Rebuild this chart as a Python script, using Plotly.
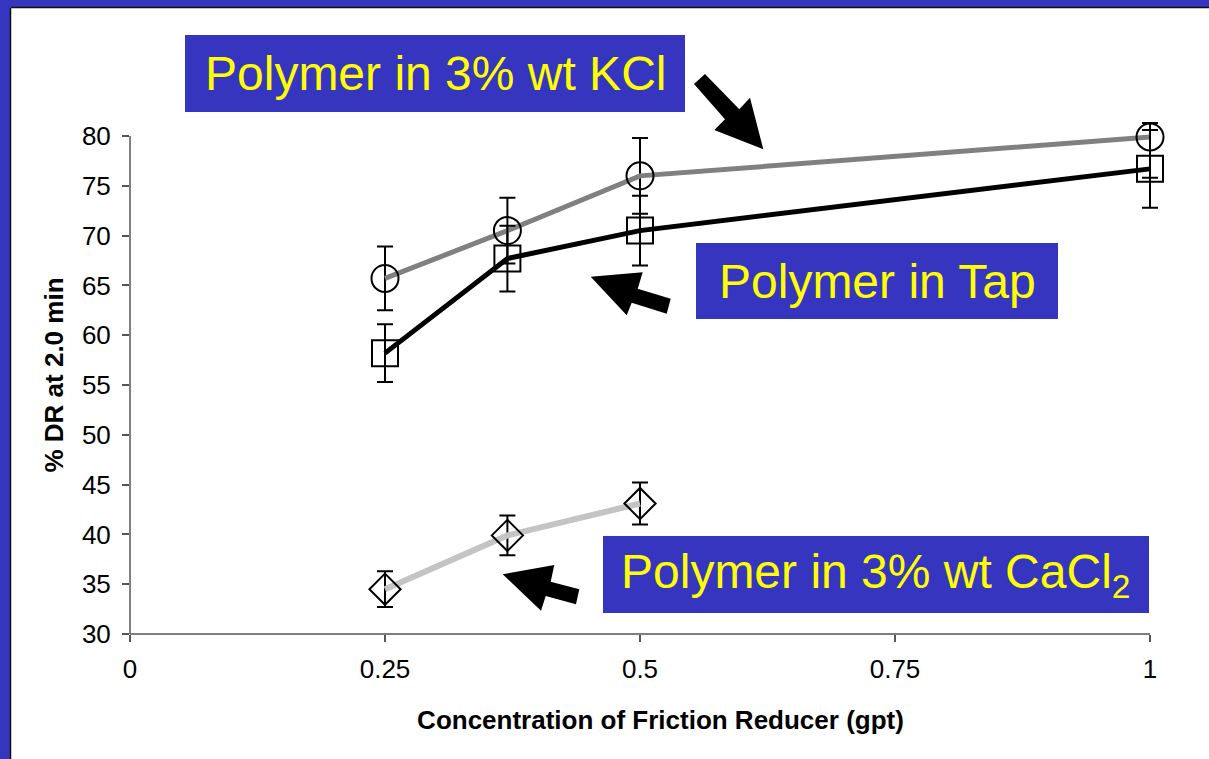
import plotly.graph_objects as go

# ---------------- data ----------------
conc = [0.25, 0.37, 0.5, 1.0]
kcl_dr = [65.7, 70.5, 76.0, 79.9]
kcl_err_plus = [3.2, 3.3, 3.8, 1.4]
kcl_err_minus = [3.2, 3.3, 3.8, 4.1]
tap_dr = [58.2, 67.7, 70.5, 76.7]
tap_err = [2.9, 3.3, 3.5, 3.9]
cacl_conc = [0.25, 0.37, 0.5]
cacl_dr = [34.5, 39.9, 43.1]
cacl_err = [1.8, 2.0, 2.1]
x_ticks = [0, 0.25, 0.5, 0.75, 1]
x_ticklabels = ["0", "0.25", "0.5", "0.75", "1"]
y_ticks = [30, 35, 40, 45, 50, 55, 60, 65, 70, 75, 80]
labels = ["Polymer in 3% wt KCl", "Polymer in Tap", "Polymer in 3% wt CaCl<sub>2</sub>"]

# ---------------- layout geometry ----------------
FW, FH = 1209, 759
L, R, T, B = 130, 18, 116, 125
W, H = FW - L - R, FH - T - B
X_PER_UNIT = 1020.0          # px per x unit
Y_PER_UNIT = 9.96            # px per y unit
XMAX = W / X_PER_UNIT
YMIN = 30
YMAX = YMIN + H / Y_PER_UNIT

FONT = "Liberation Sans, Arial, sans-serif"
BLUE = "#3535C0"
YELLOW = "#FFFF00"


def pp(px, py):
    """page pixel -> paper coords"""
    return (px - L) / W, (FH - B - py) / H


fig = go.Figure()

fig.add_trace(go.Scatter(
    x=cacl_conc, y=cacl_dr, mode="lines+markers", name="CaCl2",
    line=dict(color="#C4C4C4", width=6),
    marker=dict(symbol="diamond-open", size=24, color="black", line=dict(width=2, color="black")),
    error_y=dict(type="data", array=cacl_err, color="black", thickness=2, width=8),
    cliponaxis=False,
))
fig.add_trace(go.Scatter(
    x=conc, y=kcl_dr, mode="lines+markers", name="KCl",
    line=dict(color="#808080", width=5),
    marker=dict(symbol="circle-open", size=27, color="black", line=dict(width=2, color="black")),
    error_y=dict(type="data", array=kcl_err_plus, arrayminus=kcl_err_minus, symmetric=False,
                 color="black", thickness=2, width=8),
    cliponaxis=False,
))
fig.add_trace(go.Scatter(
    x=conc, y=tap_dr, mode="lines+markers", name="Tap",
    line=dict(color="black", width=5),
    marker=dict(symbol="square-open", size=26, color="black", line=dict(width=2, color="black")),
    error_y=dict(type="data", array=tap_err, color="black", thickness=2, width=8),
    cliponaxis=False,
))

shapes = []
# blue frame strips on the left and top, with a dark inner edge
a0, b1 = pp(-5, -5)
a1, b0 = pp(10, FH + 5)
shapes.append(dict(type="rect", xref="paper", yref="paper", x0=a0, x1=a1, y0=b0, y1=b1,
                   fillcolor=BLUE, line=dict(width=0), layer="below"))
a0, b1 = pp(-5, -5)
a1, b0 = pp(FW + 5, 7)
shapes.append(dict(type="rect", xref="paper", yref="paper", x0=a0, x1=a1, y0=b0, y1=b1,
                   fillcolor=BLUE, line=dict(width=0), layer="below"))
a0, b0 = pp(10.5, FH + 5)
a1, b1 = pp(10.5, 7.5)
shapes.append(dict(type="line", xref="paper", yref="paper", x0=a0, x1=a1, y0=b0, y1=b1,
                   line=dict(color="#111111", width=1.5), layer="below"))
a0, b0 = pp(10.5, 7.5)
a1, b1 = pp(FW + 5, 7.5)
shapes.append(dict(type="line", xref="paper", yref="paper", x0=a0, x1=a1, y0=b0, y1=b1,
                   line=dict(color="#111111", width=1.5), layer="below"))

# axis lines
y80 = (80 - YMIN) / (YMAX - YMIN)
x1p = 1 / XMAX
shapes.append(dict(type="line", xref="paper", yref="paper", x0=0, x1=0, y0=0, y1=y80,
                   line=dict(color="#555555", width=1.5)))
shapes.append(dict(type="line", xref="paper", yref="paper", x0=0, x1=x1p, y0=0, y1=0,
                   line=dict(color="#555555", width=1.5)))

# label boxes (page pixel extents)
boxes = [(185, 35, 685, 112), (696, 243, 1058, 319), (603, 536, 1149, 613)]
for (bx0, by0, bx1, by1) in boxes:
    a0, b1 = pp(bx0, by0)
    a1, b0 = pp(bx1, by1)
    shapes.append(dict(type="rect", xref="paper", yref="paper", x0=a0, x1=a1, y0=b0, y1=b1,
                       fillcolor=BLUE, line=dict(width=0)))

# fat arrows (page pixel polygons)
arrows = [
    [(694, 84), (725, 119.3), (714.3, 130), (763.3, 149.3), (750, 97.7), (739.3, 109.3), (705, 74)],
    [(590.7, 276.7), (642.7, 272.2), (637.7, 288.7), (670.7, 298.7), (666.7, 313.7), (631.7, 302.7), (626.7, 315.2)],
    [(502.7, 574.3), (554.3, 565), (550.7, 581.7), (579.3, 589.3), (576, 604.3), (545.7, 596), (541, 610.7)],
]
for poly in arrows:
    pts = [pp(px, py) for px, py in poly]
    path = "M " + " L ".join(f"{a:.5f},{b:.5f}" for a, b in pts) + " Z"
    shapes.append(dict(type="path", xref="paper", yref="paper", path=path,
                       fillcolor="black", line=dict(color="black", width=0)))

annotations = []
for (bx0, by0, bx1, by1), txt in zip(boxes, labels):
    cx, cy = pp((bx0 + bx1) / 2, (by0 + by1) / 2)
    annotations.append(dict(xref="paper", yref="paper", x=cx, y=cy, text=txt, showarrow=False,
                            xanchor="center", yanchor="middle",
                            font=dict(family=FONT, size=48, color=YELLOW)))

fig.update_layout(
    width=FW, height=FH,
    margin=dict(l=L, r=R, t=T, b=B, pad=0),
    paper_bgcolor="white", plot_bgcolor="rgba(0,0,0,0)",
    showlegend=False,
    shapes=shapes, annotations=annotations,
    font=dict(family=FONT, color="black"),
    xaxis=dict(range=[0, XMAX], tickvals=x_ticks, ticktext=x_ticklabels,
               showgrid=False, zeroline=False, showline=False,
               ticks="outside", ticklen=7, tickwidth=1.5, tickcolor="#555555",
               tickfont=dict(family=FONT, size=26, color="black"),
               ticklabelstandoff=5,
               title=dict(text="<b>Concentration of Friction Reducer (gpt)</b>",
                          font=dict(family=FONT, size=26, color="black"), standoff=27),
               automargin=False),
    yaxis=dict(range=[YMIN, YMAX], tickvals=y_ticks,
               showgrid=False, zeroline=False, showline=False,
               ticks="outside", ticklen=7, tickwidth=1.5, tickcolor="#555555",
               tickfont=dict(family=FONT, size=26, color="black"),
               ticklabelstandoff=6,
               title=dict(text="<b>% DR at 2.0 min</b>",
                          font=dict(family=FONT, size=26, color="black"), standoff=10),
               automargin=False),
)

fig.write_html("out.html", config={"displayModeBar": False},
               post_script="document.body.style.margin='0';document.body.style.overflow='hidden';")
